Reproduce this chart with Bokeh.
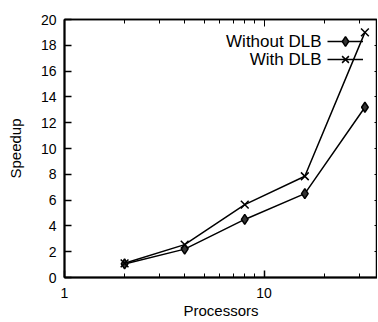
from bokeh.plotting import figure
from bokeh.models import Range1d, LogAxis, LinearAxis, FixedTicker, Legend, LegendItem, Label
from bokeh.embed import file_html
from bokeh.resources import INLINE

processors = [2, 4, 8, 16, 32]
without_dlb = [1.05, 2.2, 4.5, 6.5, 13.2]
with_dlb = [1.1, 2.55, 5.65, 7.85, 19.0]
x_major = [1, 10]
x_major_labels = {1: "1", 10: "10"}
x_minor = [2, 3, 4, 5, 6, 7, 8, 9, 20, 30]
y_major = [0, 2, 4, 6, 8, 10, 12, 14, 16, 18, 20]
series_names = ["Without DLB", "With DLB"]

FONT = "Liberation Sans"

p = figure(width=377, height=321, x_axis_type="log",
           x_range=Range1d(1, 37), y_range=Range1d(0, 20),
           output_backend="svg", toolbar_location=None,
           min_border_left=64, min_border_right=0,
           min_border_top=19, min_border_bottom=42)
p.grid.visible = False
p.outline_line_color = "black"
p.outline_line_width = 1.5
p.background_fill_color = "white"
p.border_fill_color = "white"

xa = p.xaxis[0]
xa.ticker = FixedTicker(ticks=x_major, minor_ticks=x_minor)
xa.major_label_overrides = x_major_labels
xa.axis_label = "Processors"
ya = p.yaxis[0]
ya.ticker = FixedTicker(ticks=y_major)
ya.axis_label = "Speedup"
for ax in (xa, ya):
    ax.axis_line_width = 2
    ax.major_tick_in = 7
    ax.major_tick_out = 0
    ax.minor_tick_in = 4
    ax.minor_tick_out = 0
    ax.major_tick_line_width = 1.5
    ax.major_label_text_font = FONT
    ax.major_label_text_font_size = "14px"
    ax.major_label_text_color = "black"
    ax.axis_label_text_font = FONT
    ax.axis_label_text_font_size = "15px"
    ax.axis_label_text_font_style = "normal"
    ax.axis_label_text_color = "black"
xa.major_label_standoff = 10
xa.axis_label_standoff = 1
ya.major_label_standoff = 8
ya.axis_label_standoff = 14
ya.minor_tick_line_color = None

top = LogAxis(ticker=FixedTicker(ticks=x_major, minor_ticks=x_minor),
              major_tick_in=7, major_tick_out=0, minor_tick_in=4, minor_tick_out=0,
              major_label_text_font_size="1px", major_label_text_alpha=0,
              major_label_standoff=0, axis_line_width=1.5)
p.add_layout(top, "above")
right = LinearAxis(ticker=FixedTicker(ticks=y_major),
                   major_tick_in=3, major_tick_out=0, minor_tick_line_color=None,
                   major_label_text_font_size="1px", major_label_text_alpha=0,
                   major_label_standoff=0, axis_line_width=1.5)
p.add_layout(right, "right")

l1 = p.line(processors, without_dlb, line_color="black", line_width=1.5)
m1 = p.scatter(processors, without_dlb, marker="diamond", size=10,
               line_color="black", fill_color="#333333", line_width=1.5)
l2 = p.line(processors, with_dlb, line_color="black", line_width=1.5)
m2 = p.scatter(processors, with_dlb, marker="x", size=11,
               line_color="black", line_width=1.5)

for rends, yy in zip([[l1, m1], [l2, m2]], [236, 218]):
    lg = Legend(items=[LegendItem(label=" ", renderers=rends)],
                location=(263, yy - 12), glyph_width=36, glyph_height=24,
                label_height=24, label_width=0, label_standoff=0, spacing=0,
                padding=0, margin=0, border_line_alpha=0,
                background_fill_alpha=0, label_text_font_size="2px")
    p.add_layout(lg)

for name, yy in zip(series_names, [236, 218]):
    p.add_layout(Label(x=257, y=yy, x_units="screen", y_units="screen",
                       text=name, text_align="right", text_baseline="middle",
                       text_font=FONT, text_font_size="17px", text_color="black"))

open("out.html", "w").write(file_html(p, INLINE))
